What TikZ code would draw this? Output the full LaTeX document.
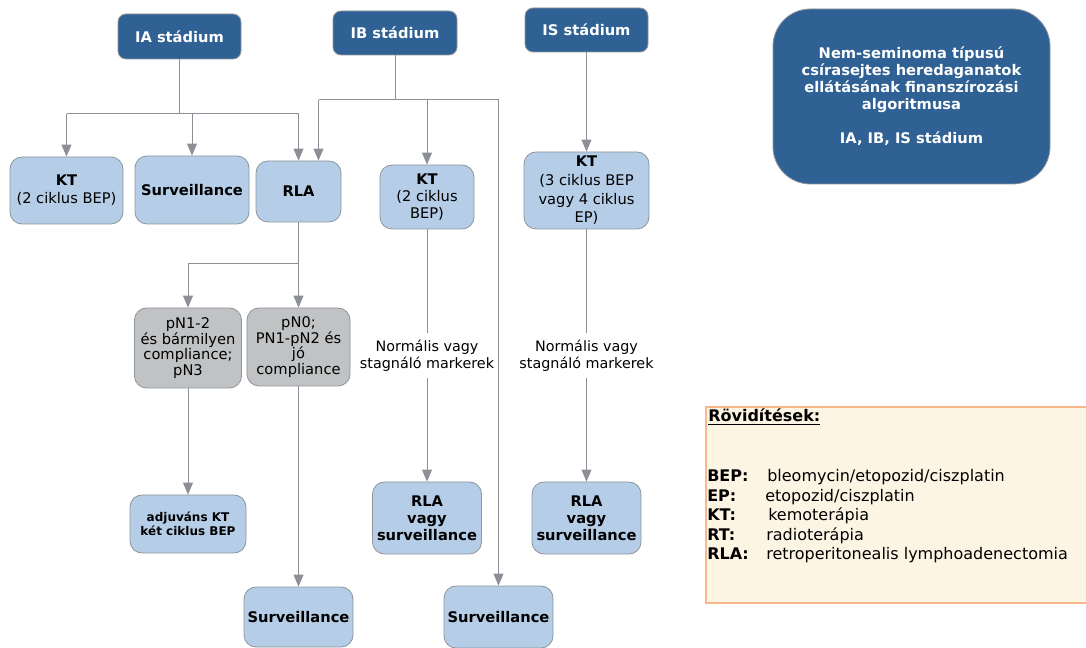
\documentclass[tikz,border=0pt]{standalone}
\usepackage{fontspec}
\setmainfont{DejaVu Sans}
\usetikzlibrary{arrows.meta,calc}
\definecolor{dblue}{HTML}{2F6194}
\definecolor{lblue}{HTML}{B5CDE6}
\definecolor{gbox}{HTML}{C0C2C4}
\definecolor{bord}{HTML}{8E959C}
\definecolor{lcol}{HTML}{8C9096}
\definecolor{legfill}{HTML}{FDF5E4}
\definecolor{legbord}{HTML}{F8B88B}
\tikzset{
 base/.style={rounded corners=9pt, draw=bord, line width=0.6pt, align=center, inner sep=1pt},
 lb/.style={base, fill=lblue, font=\fontsize{11}{13.5}\selectfont},
 gb/.style={base, fill=gbox, font=\fontsize{11}{11.7}\selectfont},
 hd/.style={base, fill=dblue, text=white, font=\fontsize{11}{13}\selectfont\bfseries, rounded corners=6pt},
 conn/.style={draw=lcol, line width=0.75pt},
 arr/.style={conn, -{Triangle[length=9pt,width=7.5pt]}},
 lbl/.style={fill=white, font=\fontsize{10.75}{12.75}\selectfont, align=center, inner xsep=1pt, inner ysep=5pt},
 legt/.style={font=\fontsize{12}{14}\selectfont, inner sep=0pt, anchor=base west},
}
\begin{document}
\begin{tikzpicture}[x=0.75pt,y=-0.75pt]
\useasboundingbox (0,0) rectangle (1086,648);
% legend
\filldraw[fill=legfill, draw=legbord, line width=0.8pt] (706,407) rectangle (1092,603);
\node[legt] (lh) at (708,422) {\bfseries\underline{Rövidítések:}};
\node[legt] (l1a) at (707,482) {\bfseries BEP:};
\node[legt] (l1b) at (767,482) {bleomycin/etopozid/ciszplatin};
\node[legt] (l2a) at (707,501.5) {\bfseries EP:};
\node[legt] (l2b) at (765,501.5) {etopozid/ciszplatin};
\node[legt] (l3a) at (707,521) {\bfseries KT:};
\node[legt] (l3b) at (768,521) {kemoterápia};
\node[legt] (l4a) at (707,540.5) {\bfseries RT:};
\node[legt] (l4b) at (766,540.5) {radioterápia};
\node[legt] (l5a) at (707,560) {\bfseries RLA:};
\node[legt] (l5b) at (766,560) {retroperitonealis lymphoadenectomia};
% headers
\node[hd, minimum width=92.25pt, minimum height=33.75pt] (IA) at (179.5,36.5) {IA stádium};
\node[hd, minimum width=93pt, minimum height=33pt] (IB) at (395,33) {IB stádium};
\node[hd, minimum width=92.25pt, minimum height=33pt] (IS) at (586.5,30) {IS stádium};
\node[hd, rounded corners=28pt, minimum width=207.75pt, minimum height=131.25pt, font=\fontsize{11}{12.75}\selectfont\bfseries] (T) at (911.5,96.5) {Nem-seminoma típusú\\csírasejtes heredaganatok\\ellátásának finanszírozási\\algoritmusa\\[12.75pt]IA, IB, IS stádium};
% second row
\node[lb, minimum width=84.75pt, minimum height=50.25pt] (KT1) at (66.5,190.5) {\textbf{KT}\\(2 ciklus BEP)};
\node[lb, minimum width=85.5pt, minimum height=51pt, font=\fontsize{11}{13.5}\selectfont\bfseries] (S1) at (192,190) {Surveillance};
\node[lb, minimum width=63.75pt, minimum height=45.75pt, font=\fontsize{11}{13.5}\selectfont\bfseries] (RLA) at (298.5,191.5) {RLA};
\node[lb, minimum width=70.5pt, minimum height=48pt, font=\fontsize{11}{12.5}\selectfont] (KT2) at (427,197) {\textbf{KT}\\(2 ciklus\\BEP)};
\node[lb, minimum width=93.75pt, minimum height=57.75pt, font=\fontsize{11}{14}\selectfont] (KT3) at (586.5,190.5) {\textbf{KT}\\(3 ciklus BEP\\vagy 4 ciklus\\EP)};
% gray
\node[gb, minimum width=80.25pt, minimum height=60pt] (P1) at (188,348) {pN1-2\\és bármilyen\\compliance;\\pN3};
\node[gb, minimum width=77.25pt, minimum height=58.5pt] (P0) at (298.5,347) {pN0;\\PN1-pN2 és\\jó\\compliance};
% bottom
\node[lb, minimum width=87pt, minimum height=43.5pt, font=\fontsize{9}{10.5}\selectfont\bfseries] (ADJ) at (188,524) {adjuváns KT\\két ciklus BEP};
\node[lb, minimum width=81.75pt, minimum height=45pt, font=\fontsize{11}{13.5}\selectfont\bfseries] (S2) at (298.5,617) {Surveillance};
\node[lb, minimum width=81.75pt, minimum height=54pt, font=\fontsize{11}{12.75}\selectfont\bfseries] (R1) at (427,518) {RLA\\vagy\\surveillance};
\node[lb, minimum width=81.75pt, minimum height=54pt, font=\fontsize{11}{12.75}\selectfont\bfseries] (R2) at (586.5,518) {RLA\\vagy\\surveillance};
\node[lb, minimum width=81.75pt, minimum height=46.5pt, font=\fontsize{11}{13.5}\selectfont\bfseries] (S3) at (498.5,617) {Surveillance};
% connectors
\coordinate (ja) at (179.5,114);
\coordinate (jb) at (395,100);
\coordinate (jr) at (298.5,264);
\draw[conn] (IA.south) -- (ja);
\draw[conn] (KT1.north |- ja) -- (RLA.north |- ja);
\draw[arr] (KT1.north |- ja) -- (KT1.north);
\draw[arr] (S1.north |- ja) -- (S1.north);
\draw[arr] (RLA.north |- ja) -- (RLA.north);
\draw[conn] (IB.south) -- (jb);
\draw[conn] ([xshift=15pt]RLA.north |- jb) -- (S3.north |- jb);
\draw[arr] ([xshift=15pt]RLA.north |- jb) -- ([xshift=15pt]RLA.north);
\draw[arr] (KT2.north |- jb) -- (KT2.north);
\draw[arr] (S3.north |- jb) -- (S3.north);
\draw[arr] (IS) -- (KT3);
\draw[arr] (RLA) -- (P0);
\draw[conn] (P1.north |- jr) -- (jr);
\draw[arr] (P1.north |- jr) -- (P1.north);
\draw[arr] (P1) -- (ADJ);
\draw[arr] (P0) -- (S2);
\draw[arr] (KT2) -- node[lbl] (N1) {Normális vagy\\stagnáló markerek} (R1);
\draw[arr] (KT3) -- node[lbl] (N2) {Normális vagy\\stagnáló markerek} (R2);
\end{tikzpicture}
\end{document}
